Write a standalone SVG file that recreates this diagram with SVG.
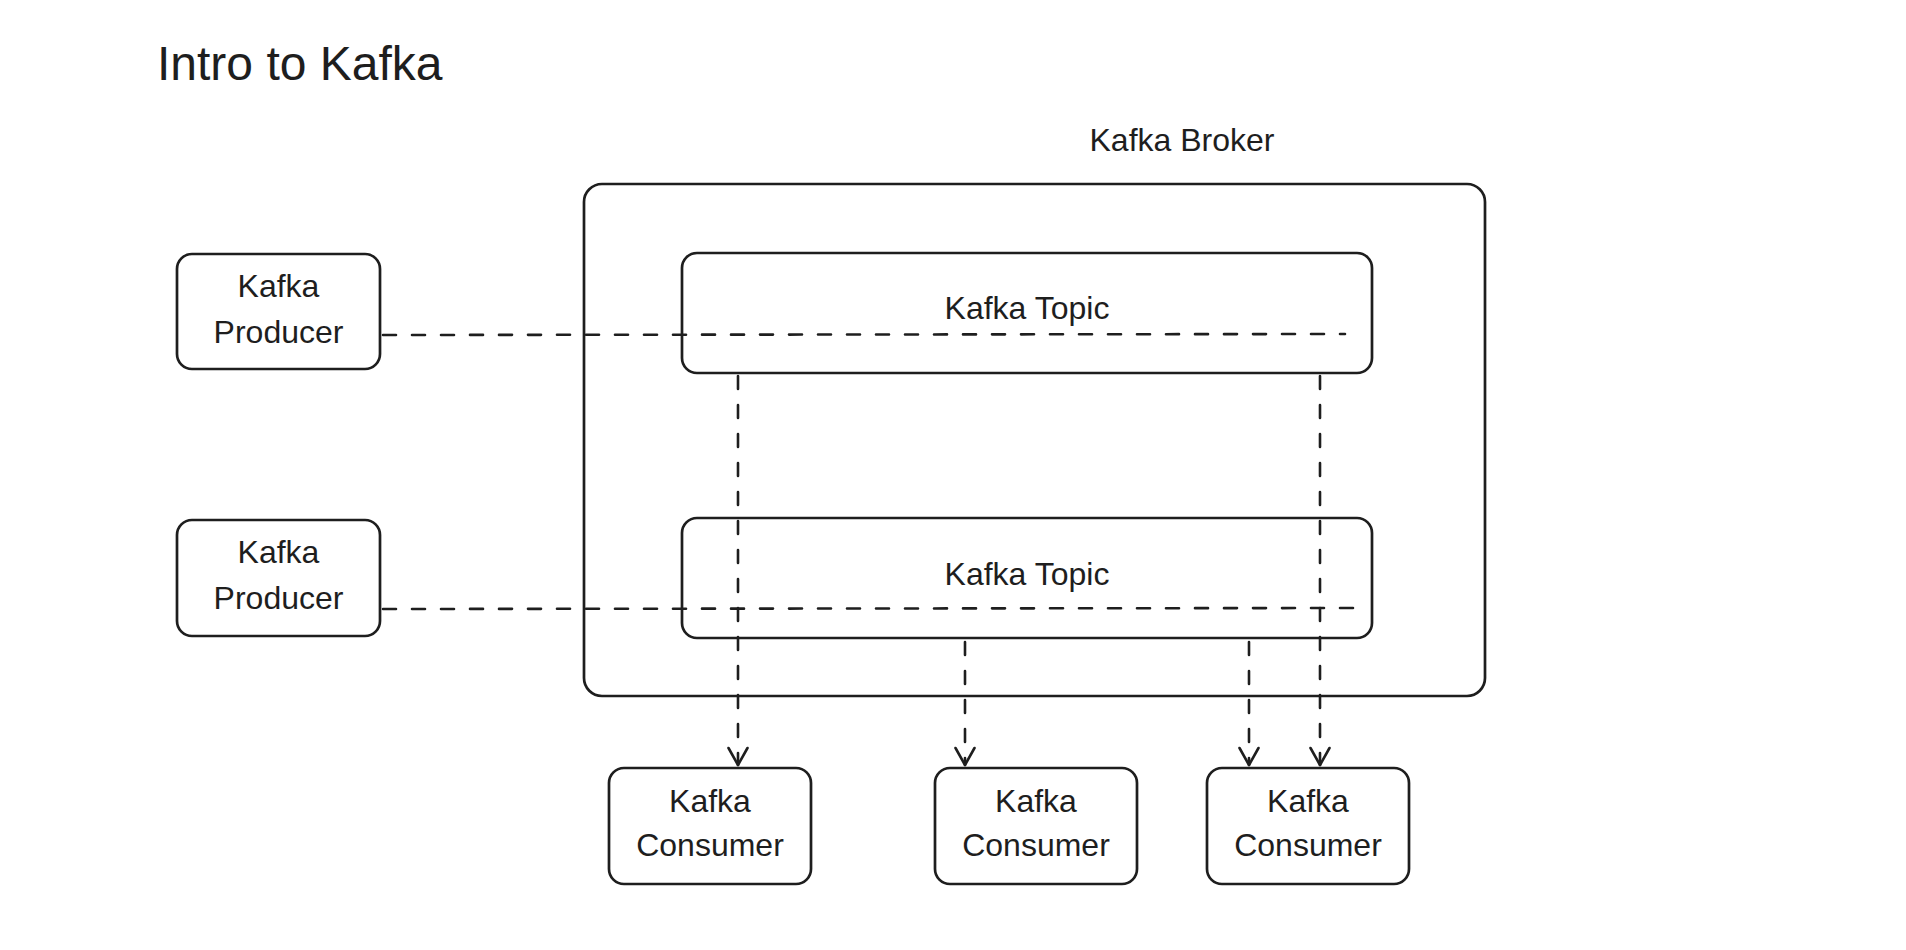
<svg xmlns="http://www.w3.org/2000/svg" width="1906" height="950" viewBox="0 0 1906 950">
  <style>
    .box { fill: #ffffff; stroke: #1e1e1e; stroke-width: 2.7; }
    .lbl { font-family: "Liberation Sans", Arial, sans-serif; font-size: 32px; fill: #1e1e1e; text-anchor: middle; }
    .title { font-family: "Liberation Sans", Arial, sans-serif; font-size: 48px; fill: #1e1e1e; }
    .dash { fill: none; stroke: #1e1e1e; stroke-width: 2.6; stroke-dasharray: 13 16; stroke-linecap: round; }
  </style>
  <defs>
    <marker id="arrow" markerUnits="userSpaceOnUse" viewBox="-20 -20 40 40" markerWidth="40" markerHeight="40" refX="0" refY="0" orient="auto" overflow="visible">
      <path d="M-17,-9.5 L0,0 L-17,9.5" fill="none" stroke="#1e1e1e" stroke-width="2.6" stroke-linecap="round" stroke-linejoin="round"/>
    </marker>
  </defs>
  <rect width="1906" height="950" fill="#ffffff"/>

  <text id="title" class="title" x="157" y="80">Intro to Kafka</text>

  <g id="broker">
    <text class="lbl" x="1182" y="151">Kafka Broker</text>
    <rect class="box" x="584" y="184" width="901" height="512" rx="18"/>
  </g>

  <g id="topic1">
    <rect class="box" x="682" y="253" width="690" height="120" rx="15"/>
    <text class="lbl" x="1027" y="319">Kafka Topic</text>
  </g>

  <g id="topic2">
    <rect class="box" x="682" y="518" width="690" height="120" rx="15"/>
    <text class="lbl" x="1027" y="585">Kafka Topic</text>
  </g>

  <g id="producer1">
    <rect class="box" x="177" y="254" width="203" height="115" rx="15"/>
    <text class="lbl" x="278.5" y="297">Kafka</text>
    <text class="lbl" x="278.5" y="343">Producer</text>
  </g>

  <g id="producer2">
    <rect class="box" x="177" y="520" width="203" height="116" rx="15"/>
    <text class="lbl" x="278.5" y="563">Kafka</text>
    <text class="lbl" x="278.5" y="609">Producer</text>
  </g>

  <g id="consumer1">
    <rect class="box" x="609" y="768" width="202" height="116" rx="15"/>
    <text class="lbl" x="710" y="812">Kafka</text>
    <text class="lbl" x="710" y="856">Consumer</text>
  </g>

  <g id="consumer2">
    <rect class="box" x="935" y="768" width="202" height="116" rx="15"/>
    <text class="lbl" x="1036" y="812">Kafka</text>
    <text class="lbl" x="1036" y="856">Consumer</text>
  </g>

  <g id="consumer3">
    <rect class="box" x="1207" y="768" width="202" height="116" rx="15"/>
    <text class="lbl" x="1308" y="812">Kafka</text>
    <text class="lbl" x="1308" y="856">Consumer</text>
  </g>

  <g id="connectors">
    <path class="dash" d="M383,335 L1345,334"/>
    <path class="dash" d="M383,609 L1355,608"/>
    <path class="dash" d="M738,376 L738,765" marker-end="url(#arrow)"/>
    <path class="dash" d="M1320,376 L1320,765" marker-end="url(#arrow)"/>
    <path class="dash" d="M965,642 L965,765" marker-end="url(#arrow)"/>
    <path class="dash" d="M1249,642 L1249,765" marker-end="url(#arrow)"/>
  </g>
</svg>
